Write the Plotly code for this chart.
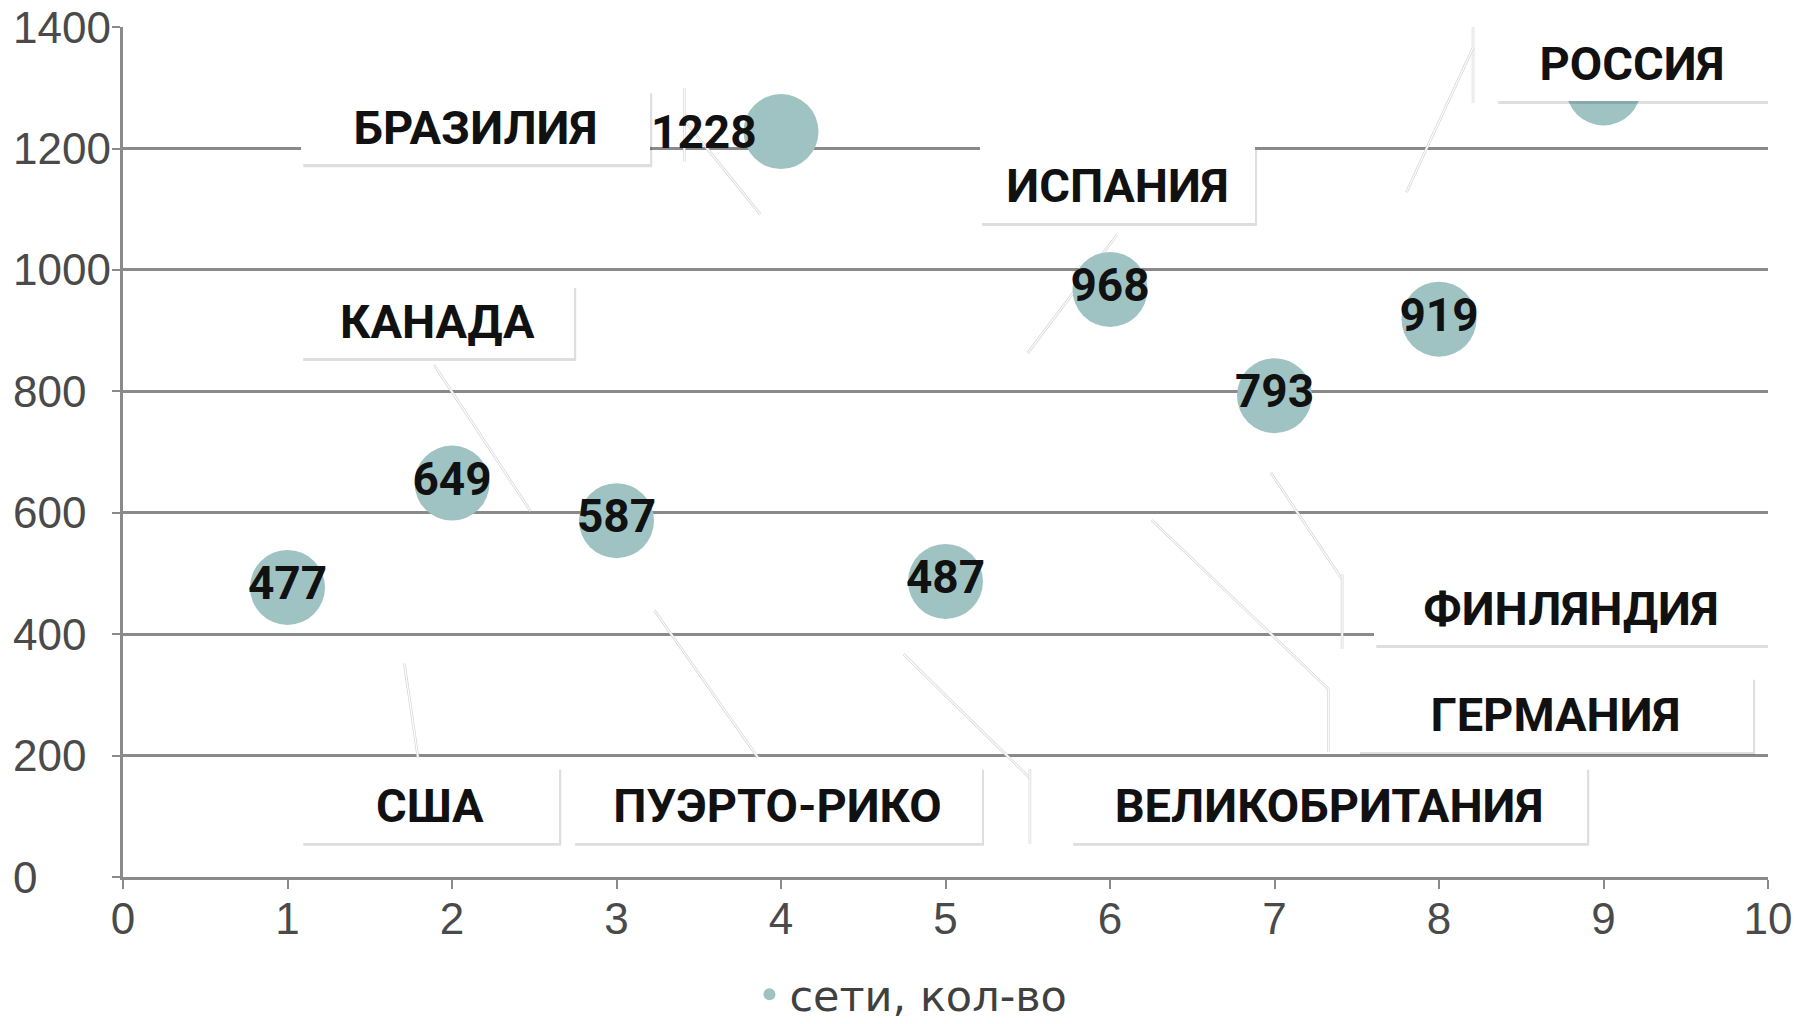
import plotly.graph_objects as go

# ---- data ----
x_vals = [1, 2, 3, 4, 5, 6, 7, 8, 9]
networks = [477, 649, 587, 1228, 487, 968, 793, 919, 1300]
value_text = ["477", "649", "587", "1228", "487", "968", "793", "919", "1300"]
label_left = [False, False, False, True, False, False, False, False, False]
series_name = "сети, кол-во"

y_ticks = [0, 200, 400, 600, 800, 1000, 1200, 1400]
y_tick_text = ["0", "200", "400", "600", "800", "1000", "1200", "1400"]

countries = ["БРАЗИЛИЯ", "РОССИЯ", "ИСПАНИЯ", "КАНАДА", "ФИНЛЯНДИЯ",
             "ГЕРМАНИЯ", "США", "ПУЭРТО-РИКО", "ВЕЛИКОБРИТАНИЯ"]

# label box placement (data coords of centre, size in px)
label_x = [2.144, 9.175, 6.046, 1.913, 8.804, 8.709, 1.868, 3.979, 7.333]
label_y = [1235, 1341, 1140, 915, 443, 268, 119, 119, 119]
label_w = [349, 272, 275, 273, 394, 395, 258, 409, 516]
label_h = [74, 76, 76, 73, 74, 75, 76, 76, 76]

# leader lines (x0, y0, x1, y1) in data coords
leaders = [
    (3.412, 1300, 3.412, 1179), (3.412, 1247, 3.873, 1092),
    (8.207, 1400, 8.207, 1275), (8.207, 1366, 7.802, 1128),
    (6.043, 1058, 5.499, 863),
    (1.891, 844, 2.477, 603),
    (1.710, 352, 1.793, 197),
    (3.231, 439, 3.859, 197),
    (4.745, 367, 5.513, 163), (5.513, 178, 5.513, 55),
    (6.978, 666, 7.411, 490), (7.411, 499, 7.411, 376),
    (6.253, 588, 7.327, 310), (7.327, 310, 7.327, 206),
]

W, H = 1800, 1024
# the page adds an 8px body margin, so the figure is offset by 8px
L, R, T, B = 115, 40, 19, 155
XR = (0, 10)
YR = (0, 1400.3)
px_x = (W - L - R) / (XR[1] - XR[0])
px_y = (H - T - B) / (YR[1] - YR[0])

bubble = "#9fc3c3"
grid = "#8a8a8a"
num_font = dict(family="Roboto", size=46, color="#111111", weight="bold")
tick_font = dict(family="Liberation Sans", size=44, color="#4a4a4a")

fig = go.Figure()
fig.add_trace(go.Scatter(
    x=x_vals, y=networks, mode="markers+text", name=series_name,
    text=["" if lf else t for t, lf in zip(value_text, label_left)],
    textposition="middle center",
    marker=dict(size=75, color=bubble, line=dict(width=0)),
    textfont=num_font,
    cliponaxis=False, hoverinfo="skip",
))

shapes = []
for x0, y0, x1, y1 in leaders:
    shapes.append(dict(type="line", xref="x", yref="y", x0=x0, y0=y0, x1=x1, y1=y1,
                       line=dict(color="#d4d4d4", width=2.6), layer="between"))
    shapes.append(dict(type="line", xref="x", yref="y", x0=x0, y0=y0, x1=x1, y1=y1,
                       line=dict(color="#ffffff", width=1.2), layer="between"))

annotations = []
# data labels placed left of the bubble
for xv, yv, t, lf in zip(x_vals, networks, value_text, label_left):
    if lf:
        annotations.append(dict(x=xv, y=yv, xref="x", yref="y", text=t, showarrow=False,
                                xanchor="right", yanchor="middle", xshift=-22,
                                font=num_font))

# y tick labels, left aligned
for v, t in zip(y_ticks, y_tick_text):
    annotations.append(dict(x=-0.0678, xref="paper", y=v, yref="y", text=t, showarrow=False,
                            xanchor="left", yanchor="middle", font=tick_font))

for name, cx, cy, w, h in zip(countries, label_x, label_y, label_w, label_h):
    dx = w / 2 / px_x
    dy = h / 2 / px_y
    ox = 2 / px_x
    oy = 3 / px_y
    shapes.append(dict(type="rect", xref="x", yref="y",
                       x0=cx - dx + ox, x1=cx + dx + ox, y0=cy - dy - oy, y1=cy + dy - oy,
                       fillcolor="rgba(0,0,0,0.13)", line=dict(width=0), layer="above"))
    annotations.append(dict(x=cx, y=cy, xref="x", yref="y", text=name, showarrow=False,
                            xanchor="center", yanchor="middle", width=w, height=h,
                            bgcolor="#ffffff", borderpad=0, borderwidth=0,
                            font=dict(family="Roboto", size=47, color="#111111", weight="bold")))

fig.update_layout(
    width=W, height=H, margin=dict(l=L, r=R, t=T, b=B, autoexpand=False),
    paper_bgcolor="white", plot_bgcolor="white",
    showlegend=True,
    legend=dict(orientation="h", x=0.479, xanchor="center", y=-0.138, yanchor="middle",
                font=dict(family="DejaVu Sans", size=43, color="#404040"),
                itemsizing="constant", itemwidth=30, bgcolor="rgba(0,0,0,0)"),
    shapes=shapes, annotations=annotations,
    xaxis=dict(range=list(XR), dtick=1, tick0=0, showgrid=False, zeroline=False,
               automargin=False,
               showline=True, linecolor=grid, linewidth=2.5,
               ticks="outside", ticklen=9, tickwidth=2, tickcolor=grid,
               ticklabelstandoff=-8,
               tickfont=tick_font),
    yaxis=dict(range=list(YR), tickmode="array", tickvals=y_ticks,
               showticklabels=False,
               showgrid=True, gridcolor=grid, gridwidth=2.5,
               automargin=False,
               zeroline=False, showline=True, linecolor=grid, linewidth=2.5,
               ticks="outside", ticklen=8, tickwidth=2, tickcolor=grid),
)

fig.write_html("out.html")
